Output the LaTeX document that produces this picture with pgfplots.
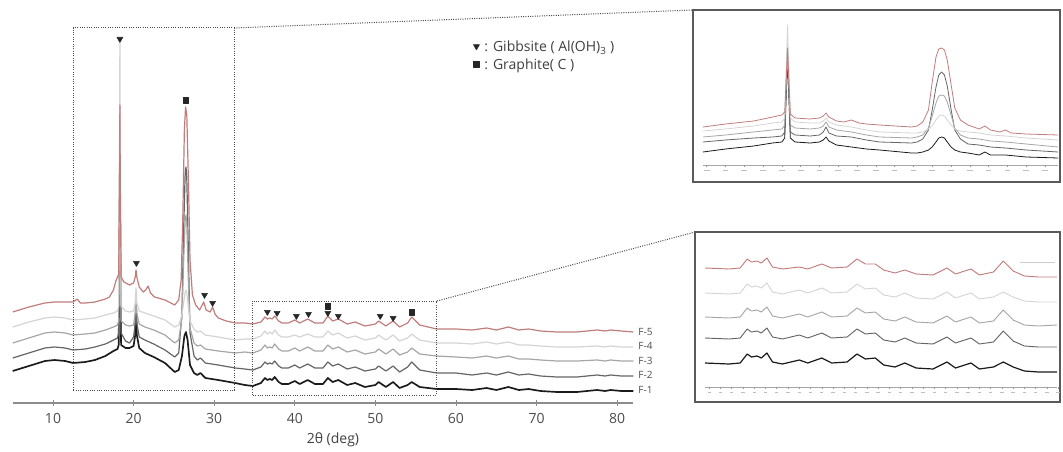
\documentclass[border=0pt]{standalone}
\usepackage{pgfplots}
\pgfplotsset{compat=1.18}
\usepackage{pgfplotstable}
\usepackage{fontspec}
\setmainfont{Open Sans}
\definecolor{cF1}{HTML}{1A1A1A}
\definecolor{cF2}{HTML}{656565}
\definecolor{cF3}{HTML}{A6A6A6}
\definecolor{cF4}{HTML}{D4D4D4}
\definecolor{cF5}{HTML}{C27C7C}
\definecolor{frm}{HTML}{5A5A5A}
\pgfplotsset{dotlegend/.style={legend image code/.code={\draw[##1] plot coordinates {(0.12cm,0.03cm)};}}}

% inset 1 (zoom of 13.8-32.7 deg): x, F-1, F-2, F-3, F-4
\pgfplotstableread{
x a b c d
13.8 30 40 45 51
15 33 42 47 53
16.5 36 44 50 56
17.5 39 45 52 59
18.0 40 46 53 60
18.15 44 50 57 64
18.3 122 134 128 157
18.45 44 50 57 64
18.7 40 47 54 60
19.5 39 46 53 59
20.0 40 47 54 59
20.2 42 50 56 61
20.35 45 55 60 64
20.5 41 49 55 60
20.9 37 46 52 57
21.7 35 45 50 55
22.5 33 42 47 52
23.2 32 40 45 50
24.9 29 39 44 49
25.2 29 40 45 49
25.5 30 43 47 50
25.8 32 52 54 53
26.0 35 72 66 56
26.2 40 95 79 62
26.35 44 107 86 66
26.5 45 110 87 67
26.65 44 107 86 66
26.8 40 96 80 62
27.0 35 73 67 57
27.2 32 52 54 53
27.5 30 43 47 51
27.9 29 38 44 50
28.5 27 37 43 49
28.8 30 36 42 48
29.1 27 35 41 47
29.9 27 34 40 46
31 25 32 38 44
32.7 24 30 35 42
}\insA

% inset 2 (zoom of 33.3-58.3 deg): x, F-1 ... F-5
\pgfplotstableread{
x a b c d e
33.3 39 64 85 109 134
35.0 38 63 84 108 133
35.8 39 64 85 109 134
36.3 48 73 94 118 143
36.6 45 70 91 115 140
37.0 46 71 92 116 141
37.3 44 69 90 114 139
37.7 49 74 95 119 144
38.1 40 65 86 110 135
38.8 38 63 84 108 133
40.0 42 67 88 112 135
40.6 39 64 85 109 133
41.6 44 69 90 114 138
42.3 39 64 85 109 134
43.4 40 65 86 110 135
44.1 48 73 94 118 143
44.7 43 68 89 113 138
45.4 44 69 90 114 138
46.0 37 62 83 107 132
46.8 35 60 81 105 129
47.5 39 64 85 109 132
48.3 34 59 80 104 128
49.5 33 58 79 103 127
50.5 40 65 86 110 134
51.1 34 59 80 104 128
52.2 39 64 85 109 133
52.8 33 58 79 103 127
53.8 35 60 81 105 130
54.5 40 71 92 110 141
55.2 35 61 82 105 131
56.0 31 56 77 101 126
57.0 30 55 76 100 125
58.3 30 55 77 100 125
}\insB

\begin{document}
\begin{tikzpicture}
\useasboundingbox (0,0) rectangle (797.25pt,338.25pt);

% ---------------- main pattern ----------------
\begin{axis}[
  at={(9.525pt,36pt)}, anchor=south west,
  scale only axis, width=465.45pt, height=302.25pt,
  xmin=5, xmax=82, ymin=0, ymax=403,
  axis x line*=bottom, axis y line=none,
  x axis line style={draw=black!45, line width=0.8pt},
  xtick={10,20,...,80}, minor x tick num=9,
  tick align=center,
  major tick length=4pt, minor tick length=2pt,
  every tick/.style={black!45, line width=0.6pt},
  ytick=\empty,
  /pgf/number format/assume math mode=true,
  xticklabel style={font=\fontsize{10.5}{12}\selectfont, text=black!70, yshift=-2pt},
  xlabel={2θ (deg)},
  xlabel style={font=\fontsize{10.5}{12}\selectfont, text=black!75, at={(axis description cs:0.516,0)}, anchor=center, yshift=-27.5pt},
  clip=false,
  legend style={draw=none, fill=none, inner sep=0pt, at={(axis description cs:0.742,0.905)}, anchor=north west,
    font=\fontsize{10.5}{12}\selectfont, text=black!75, row sep=0pt, cells={anchor=west}},
  legend cell align=left,
  every axis plot/.append style={line join=round},
]
\addplot[cF1, line width=1.25pt, forget plot] coordinates {(5,32)(7,37)(9,42)(10.2,43)(11.5,42)(12.5,40)(14,41)(15.2,43)(16.5,47)(17.5,52)(18.0,54)(18.15,58)(18.25,153)(18.3,243)(18.35,153)(18.45,58)(19.0,55)(19.5,55)(20.0,57)(20.2,68)(20.3,95)(20.4,68)(20.7,55)(21.4,50)(22.5,46)(23.9,40)(25.1,31)(25.6,33)(26.0,47)(26.3,67)(26.5,71)(26.7,63)(27.0,38)(27.5,30)(27.9,28)(28.3,30)(28.9,25)(30.5,23)(32.6,20)(33.8,18)(34.8,17)(35.8,20)(36.3,25)(36.6,23)(36.9,24)(37.2,23)(37.5,26)(38.0,21)(38.4,19)(39.2,19)(40.0,22)(40.6,19)(41.6,23)(42.5,19)(43.5,19)(44.1,25)(44.7,21)(45.4,23)(46.5,18)(47.5,20)(48.7,16)(50.0,18)(50.4,21)(51.3,16)(52.2,21)(53.0,15)(54.0,18)(54.5,21)(55.5,16)(57.6,14)(60,14)(62,13)(63.8,15)(65,13)(66.5,16)(67.8,13)(69,14)(70.5,12)(72.5,11)(75,11)(77.5,13)(78.5,12)(79.2,13)(80.5,12)(82,12)};
\addplot[cF2, line width=0.9pt, forget plot] coordinates {(5,45)(7,50)(9,55)(10.2,56)(11.5,55)(12.5,53)(14,54)(15.2,56)(16.5,59)(17.5,63)(18.0,65)(18.15,70)(18.25,170)(18.3,263)(18.35,170)(18.45,70)(19.0,62)(19.5,60)(20.0,66)(20.2,80)(20.3,103)(20.4,80)(20.7,66)(21.4,63)(22.5,59)(23.9,53)(25.1,46)(25.6,50)(26.0,90)(26.2,170)(26.4,230)(26.5,236)(26.6,225)(26.8,150)(27.0,70)(27.5,47)(27.9,43)(28.3,45)(28.9,40)(30.5,38)(32.6,35)(33.8,34)(34.8,33)(35.8,36)(36.3,41)(36.6,39)(36.9,40)(37.2,39)(37.5,42)(38.0,37)(38.4,35)(39.2,35)(40.0,38)(40.6,35)(41.6,39)(42.5,35)(43.5,35)(44.1,41)(44.7,37)(45.4,39)(46.5,34)(47.5,36)(48.7,32)(50.0,34)(50.4,37)(51.3,32)(52.2,37)(53.0,31)(54.0,36)(54.5,41)(55.5,33)(57.6,30)(60,30)(62,28)(63.8,30)(65,28)(66.5,31)(67.8,28)(69,29)(70.5,27)(72.5,26)(75,26)(77.5,28)(78.5,27)(79.2,28)(80.5,27)(82,27)};
\addplot[cF3, line width=0.9pt, forget plot] coordinates {(5,60)(7,65)(9,70)(10.2,71)(11.5,70)(12.5,68)(14,69)(15.2,70)(16.5,73)(17.5,76)(18.0,78)(18.15,82)(18.25,180)(18.3,278)(18.35,180)(18.45,82)(19.0,78)(19.5,77)(20.0,78)(20.2,90)(20.3,108)(20.4,90)(20.7,79)(21.4,76)(22.5,73)(23.9,68)(25.1,60)(25.6,63)(26.0,85)(26.2,140)(26.4,183)(26.5,188)(26.6,180)(26.8,120)(27.0,75)(27.5,60)(27.9,57)(28.3,58)(28.9,54)(30.5,52)(32.6,50)(33.8,51)(34.8,50)(35.8,53)(36.3,58)(36.6,55)(36.9,56)(37.2,55)(37.5,59)(38.0,54)(38.4,52)(39.2,52)(40.0,55)(40.6,52)(41.6,56)(42.5,52)(43.5,52)(44.1,58)(44.7,54)(45.4,56)(46.5,51)(47.5,53)(48.7,49)(50.0,51)(50.4,54)(51.3,49)(52.2,54)(53.0,48)(54.0,51)(54.5,55)(55.5,49)(57.6,47)(60,46)(62,45)(63.8,47)(65,45)(66.5,47)(67.8,44)(69,44)(70.5,43)(72.5,42)(75,42)(77.5,43)(78.5,42)(79.2,43)(80.5,42)(82,42)};
\addplot[cF4, line width=0.9pt, forget plot] coordinates {(5,76)(7,81)(9,85)(10.2,86)(11.5,85)(12.5,83)(14,84)(15.2,85)(16.5,88)(17.5,90)(18.0,92)(18.15,97)(18.25,230)(18.3,361)(18.35,230)(18.45,97)(19.0,92)(19.5,91)(20.0,92)(20.2,100)(20.3,115)(20.4,100)(20.7,92)(21.4,90)(22.5,87)(23.9,83)(25.1,76)(25.6,78)(26.0,88)(26.2,100)(26.4,111)(26.5,113)(26.6,110)(26.8,95)(27.0,82)(27.5,74)(27.9,71)(28.3,72)(28.9,68)(30.5,66)(32.6,63)(33.8,64)(34.8,64)(35.8,67)(36.3,72)(36.6,69)(36.9,71)(37.2,69)(37.5,73)(38.0,68)(38.4,66)(39.2,66)(40.0,68)(40.6,66)(41.6,69)(42.5,66)(43.5,66)(44.1,72)(44.7,68)(45.4,70)(46.5,65)(47.5,67)(48.7,63)(50.0,65)(50.4,68)(51.3,63)(52.2,68)(53.0,62)(54.0,65)(54.5,69)(55.5,63)(57.6,60)(60,60)(62,59)(63.8,61)(65,59)(66.5,61)(67.8,58)(69,58)(70.5,57)(72.5,56)(75,56)(77.5,57)(78.5,56)(79.2,57)(80.5,56)(82,56)};
\addplot[cF5, line width=0.9pt, forget plot] coordinates {(5,91)(7,96)(9,100)(10.2,101)(11.5,101)(12.5,101)(13.0,104)(13.4,100)(14,100)(15.2,101)(16.5,104)(17.0,106)(17.5,113)(17.8,122)(18.0,126)(18.15,129)(18.25,220)(18.3,298)(18.35,220)(18.45,126)(18.8,121)(19.5,118)(20.0,120)(20.2,126)(20.3,133)(20.4,126)(20.7,116)(21.2,111)(21.5,113)(21.8,117)(22.1,110)(22.6,106)(23.9,103)(25.1,98)(25.6,103)(25.9,123)(26.1,183)(26.3,273)(26.45,296)(26.6,288)(26.8,223)(27.0,143)(27.3,108)(27.7,98)(28.2,93)(28.7,101)(29.0,93)(29.5,91)(29.8,96)(30.1,89)(30.5,85)(31.5,82)(32.6,80)(33.8,80)(34.8,79)(35.8,81)(36.3,86)(36.6,84)(36.9,85)(37.2,84)(37.5,87)(38.0,82)(38.4,80)(39.2,80)(40.0,83)(40.6,80)(41.6,84)(42.5,80)(43.5,80)(44.1,87)(44.7,82)(45.4,84)(46.5,79)(47.5,81)(48.7,77)(50.0,79)(50.4,82)(51.3,77)(52.2,82)(53.0,76)(54.0,80)(54.5,86)(55.5,78)(57.6,74)(60,74)(62,73)(63.8,75)(65,73)(66.5,76)(67.8,73)(69,74)(70.5,72)(72.5,71)(75,71)(77.5,73)(78.5,72)(79.2,73)(80.5,72)(82,71)};

% phase markers
\addplot[only marks, mark=triangle*, mark size=2.6pt, mark options={rotate=180, fill=black!85, draw=black!85}, dotlegend]
  coordinates {(18.3,364)(20.35,140)(28.8,108)(29.8,100)(36.6,91)(37.8,90)(40.2,87)(41.7,89)(44.1,90)(45.4,87)(50.6,87)(52.2,85)};
\addlegendentry{\,: Gibbsite ( Al(OH)\textsubscript{3} )}
\addplot[only marks, mark=square*, mark size=2.1pt, mark options={fill=black!85, draw=black!85}, dotlegend]
  coordinates {(26.45,303)(44.1,97)(54.5,91)};
\addlegendentry{\,: Graphite( C )}

% zoom boxes
\draw[densely dotted, line width=0.75pt, black!70] (axis cs:12.5,13) rectangle (axis cs:32.5,375);
\draw[densely dotted, line width=0.75pt, black!70] (axis cs:34.7,8) rectangle (axis cs:57.6,102);

% sample labels
\begin{scope}[every node/.style={anchor=west, font=\fontsize{7.5}{9}\selectfont, text=black!70, inner sep=0pt}]
\node at (axis cs:82.6,71) {F-5};
\node at (axis cs:82.6,57) {F-4};
\node at (axis cs:82.6,42) {F-3};
\node at (axis cs:82.6,28) {F-2};
\node at (axis cs:82.6,13) {F-1};
\end{scope}
\end{axis}

% ---------------- inset 1 ----------------
\begin{axis}[
  at={(519.75pt,201.75pt)}, anchor=south west,
  scale only axis, width=275.25pt, height=129pt,
  xmin=13.27, xmax=32.8, ymin=0, ymax=172,
  xtick=\empty, ytick=\empty,
  axis line style={draw=frm, line width=1.1pt},
  every axis plot/.append style={line width=0.6pt, line join=round},
]
\addplot[cF1] table[x=x, y=a] {\insA};
\addplot[cF2] table[x=x, y=b] {\insA};
\addplot[cF3] table[x=x, y=c] {\insA};
\addplot[cF4] table[x=x, y=d] {\insA};
\addplot[cF5] coordinates {(13.8,55)(15,58)(16.5,61)(17.5,65)(18.0,67)(18.15,70)(18.3,134)(18.45,68)(18.7,64)(19.5,63)(20.0,64)(20.2,66)(20.35,69)(20.5,65)(20.9,61)(21.3,60)(21.7,62)(22.1,59)(22.5,58)(23.2,57)(24.9,55)(25.2,56)(25.5,60)(25.8,72)(26.0,100)(26.2,125)(26.35,133)(26.5,134)(26.65,132)(26.8,122)(27.0,98)(27.2,74)(27.5,62)(27.9,57)(28.5,53)(28.8,56)(29.1,52)(29.6,50)(29.9,52)(30.2,49)(31,48)(32.7,47)};
\draw[black!35, line width=0.5pt] (axis cs:13.8,17) -- (axis cs:32.7,17);
\pgfplotsinvokeforeach{14,...,32}{
  \draw[black!40, line width=0.4pt] (axis cs:#1,17) -- ++(0pt,-1.5pt);
  \draw[black!25, line width=0.6pt] (axis cs:#1-0.15,12) -- (axis cs:#1+0.15,12);
}
\end{axis}

% ---------------- inset 2 ----------------
\begin{axis}[
  at={(521.25pt,36.75pt)}, anchor=south west,
  scale only axis, width=273.75pt, height=127.5pt,
  xmin=32.59, xmax=58.53, ymin=0, ymax=170,
  xtick=\empty, ytick=\empty,
  axis line style={draw=frm, line width=1.1pt},
  every axis plot/.append style={line width=0.7pt, line join=round},
]
\addplot[cF1, line width=0.9pt] table[x=x, y=a] {\insB};
\addplot[cF2] table[x=x, y=b] {\insB};
\addplot[cF3] table[x=x, y=c] {\insB};
\addplot[cF4] table[x=x, y=d] {\insB};
\addplot[cF5] table[x=x, y=e] {\insB};
\draw[black!35, line width=0.5pt] (axis cs:33.3,15) -- (axis cs:58.3,15);
\pgfplotsinvokeforeach{33.6,34.4,...,58.0}{
  \draw[black!40, line width=0.4pt] (axis cs:#1,15) -- ++(0pt,-1.5pt);
  \draw[black!25, line width=0.6pt] (axis cs:#1-0.12,10) -- (axis cs:#1+0.12,10);
}
\draw[blue!20!black!20, line width=0.7pt] (axis cs:55.7,140) -- (axis cs:58.2,140);
\end{axis}

% connectors from the zoom boxes to the insets (pixel grid of the reference)
\begin{scope}[x=0.75pt, y=-0.75pt, shift={(0pt,338.25pt)}]
\draw[densely dotted, line width=0.75pt, black!70] (234,28) -- (693,10);
\draw[densely dotted, line width=0.75pt, black!70] (437,301) -- (695,232);
\end{scope}
\end{tikzpicture}
\end{document}
